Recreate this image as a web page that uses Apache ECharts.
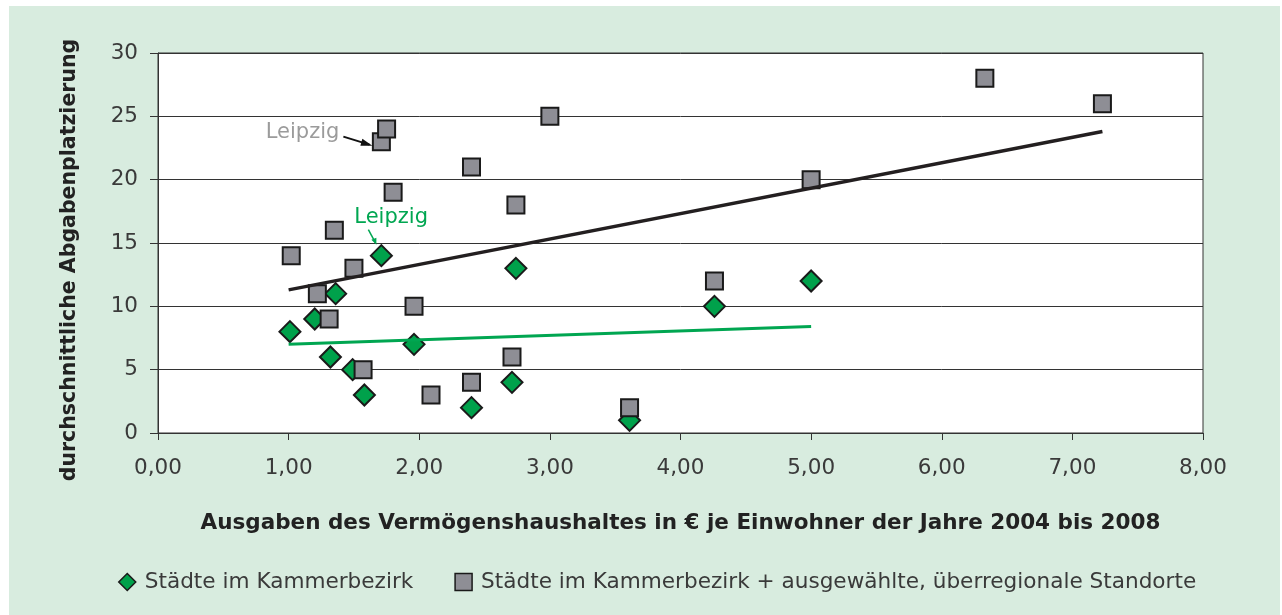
<!DOCTYPE html>
<html>
<head>
<meta charset="utf-8">
<script src="https://cdn.jsdelivr.net/npm/echarts@6/dist/echarts.min.js"></script>
<style>
html,body{margin:0;padding:0;background:#fff;}
#chart{width:1282px;height:615px;}
</style>
</head>
<body>
<div id="chart"></div>
<script>
// Städte im Kammerbezirk: [Ausgaben €/Einwohner, Platzierung]
const kammerX = [1.01, 1.20, 1.32, 1.36, 1.49, 1.58, 1.71, 1.96, 2.40, 2.71, 2.74, 3.61, 4.26, 5.00];
const kammerY = [8, 9, 6, 11, 5, 3, 14, 7, 2, 4, 13, 1, 10, 12];
// Städte im Kammerbezirk + ausgewählte, überregionale Standorte
const alleX = [1.02, 1.22, 1.31, 1.35, 1.50, 1.57, 1.71, 1.75, 1.80, 1.96, 2.09, 2.40, 2.40, 2.71, 2.74, 3.00, 3.61, 4.26, 5.00, 6.33, 7.23];
const alleY = [14, 11, 9, 16, 13, 5, 23, 24, 19, 10, 3, 21, 4, 6, 18, 25, 2, 12, 20, 28, 26];
// Trendlinien (Endpunkte)
const trendKammerX = [1.00, 5.00];
const trendKammerY = [7.0, 8.4];
const trendAlleX = [1.00, 7.23];
const trendAlleY = [11.3, 23.8];
const yTicks = [0, 5, 10, 15, 20, 25, 30];
const xTicks = [0, 1, 2, 3, 4, 5, 6, 7, 8];
const seriesNames = ['Städte im Kammerbezirk', 'Städte im Kammerbezirk + ausgewählte, überregionale Standorte'];
const leipzigLabel = 'Leipzig';

const zip = (xs, ys) => xs.map((x, i) => [x, ys[i]]);
const FONT = 'DejaVu Sans';

const bgRect = {
  type: 'rect', z: -10, silent: true,
  shape: { x: 9, y: 6, width: 1271, height: 609 },
  style: { fill: '#d8ecdf' }
};

const chart = echarts.init(document.getElementById('chart'));
chart.setOption({
  backgroundColor: '#ffffff',
  animation: false,
  textStyle: { fontFamily: FONT },
  graphic: [bgRect],
  grid: {
    left: 158, right: 79, top: 53, bottom: 182,
    show: true, backgroundColor: '#ffffff', borderColor: '#333333', borderWidth: 1
  },
  legend: {
    top: 566, left: 113,
    itemWidth: 17, itemHeight: 17, itemGap: 41,
    textStyle: { fontSize: 21.6, color: '#3a3a3a', fontFamily: FONT, padding: [0, 0, 0, 4] },
    data: [
      { name: seriesNames[0], icon: 'diamond', itemStyle: { color: '#00a14b', borderColor: '#1a1a1a', borderWidth: 1.5 } },
      { name: seriesNames[1], icon: 'rect', itemStyle: { color: '#8e8e95', borderColor: '#1a1a1a', borderWidth: 1.5 } }
    ]
  },
  xAxis: {
    type: 'value', min: xTicks[0], max: xTicks[xTicks.length - 1], interval: 1,
    name: 'Ausgaben des Vermögenshaushaltes in € je Einwohner der Jahre 2004 bis 2008',
    nameLocation: 'middle', nameGap: 79,
    nameTextStyle: { fontSize: 21.5, fontWeight: 'bold', color: '#222222', fontFamily: FONT },
    axisLine: { show: true, lineStyle: { color: '#333333', width: 1 } },
    axisTick: { show: true, length: 7, lineStyle: { color: '#333333' } },
    axisLabel: { fontSize: 21.5, color: '#3a3a3a', margin: 24, formatter: v => v.toFixed(2).replace('.', ',') },
    splitLine: { show: false }
  },
  yAxis: {
    type: 'value', min: yTicks[0], max: yTicks[yTicks.length - 1], interval: 5,
    name: 'durchschnittliche Abgabenplatzierung',
    nameLocation: 'middle', nameGap: 78,
    nameTextStyle: { fontSize: 20.5, fontWeight: 'bold', color: '#222222', fontFamily: FONT, padding: [0, 34, 0, 0] },
    axisLine: { show: true, lineStyle: { color: '#333333', width: 1 } },
    axisTick: { show: true, length: 8, lineStyle: { color: '#333333' } },
    axisLabel: { fontSize: 21.5, color: '#3a3a3a', margin: 20 },
    splitLine: { show: true, lineStyle: { color: '#333333', width: 1 } }
  },
  series: [
    {
      name: seriesNames[0], type: 'scatter', symbol: 'diamond', symbolSize: 21, z: 2,
      itemStyle: { color: '#00a14b', borderColor: '#1a1a1a', borderWidth: 2, opacity: 1 },
      data: zip(kammerX, kammerY)
    },
    {
      name: seriesNames[1], type: 'scatter', symbol: 'rect', symbolSize: 17, z: 3,
      itemStyle: { color: '#8e8e95', borderColor: '#1a1a1a', borderWidth: 2, opacity: 1 },
      data: zip(alleX, alleY)
    },
    {
      name: 'trendKammer', type: 'line', showSymbol: false, symbol: 'none', z: 4, silent: true,
      lineStyle: { color: '#00a651', width: 3 },
      data: zip(trendKammerX, trendKammerY)
    },
    {
      name: 'trendAlle', type: 'line', showSymbol: false, symbol: 'none', z: 4, silent: true,
      lineStyle: { color: '#231f20', width: 3.5 },
      data: zip(trendAlleX, trendAlleY)
    }
  ]
});

// Leipzig annotations anchored on the Leipzig data points
const gP = chart.convertToPixel({ gridIndex: 0 }, [alleX[6], alleY[6]]);
const kP = chart.convertToPixel({ gridIndex: 0 }, [kammerX[6], kammerY[6]]);
chart.setOption({
  graphic: [
    bgRect,
    {
      type: 'text', z: 100, silent: true,
      style: { text: leipzigLabel, x: gP[0] - 42, y: gP[1] - 9, align: 'right', verticalAlign: 'middle',
               font: '21px "DejaVu Sans"', fill: '#9b9b9b' }
    },
    {
      type: 'line', z: 100, silent: true,
      shape: { x1: gP[0] - 38, y1: gP[1] - 5, x2: gP[0] - 12, y2: gP[1] + 3 },
      style: { stroke: '#111', lineWidth: 2 }
    },
    {
      type: 'polygon', z: 100, silent: true,
      shape: { points: [[gP[0] - 9, gP[1] + 4], [gP[0] - 19, gP[1] - 3], [gP[0] - 21, gP[1] + 4]] },
      style: { fill: '#111' }
    },
    {
      type: 'text', z: 100, silent: true,
      style: { text: leipzigLabel, x: kP[0] - 27, y: kP[1] - 38, align: 'left', verticalAlign: 'middle',
               font: '21px "DejaVu Sans"', fill: '#00a651' }
    },
    {
      type: 'line', z: 100, silent: true,
      shape: { x1: kP[0] - 13, y1: kP[1] - 26, x2: kP[0] - 6, y2: kP[1] - 13 },
      style: { stroke: '#00a651', lineWidth: 1.5 }
    },
    {
      type: 'polygon', z: 100, silent: true,
      shape: { points: [[kP[0] - 5, kP[1] - 11], [kP[0] - 10, kP[1] - 16], [kP[0] - 5, kP[1] - 18]] },
      style: { fill: '#00a651' }
    }
  ]
});
</script>
</body>
</html>
